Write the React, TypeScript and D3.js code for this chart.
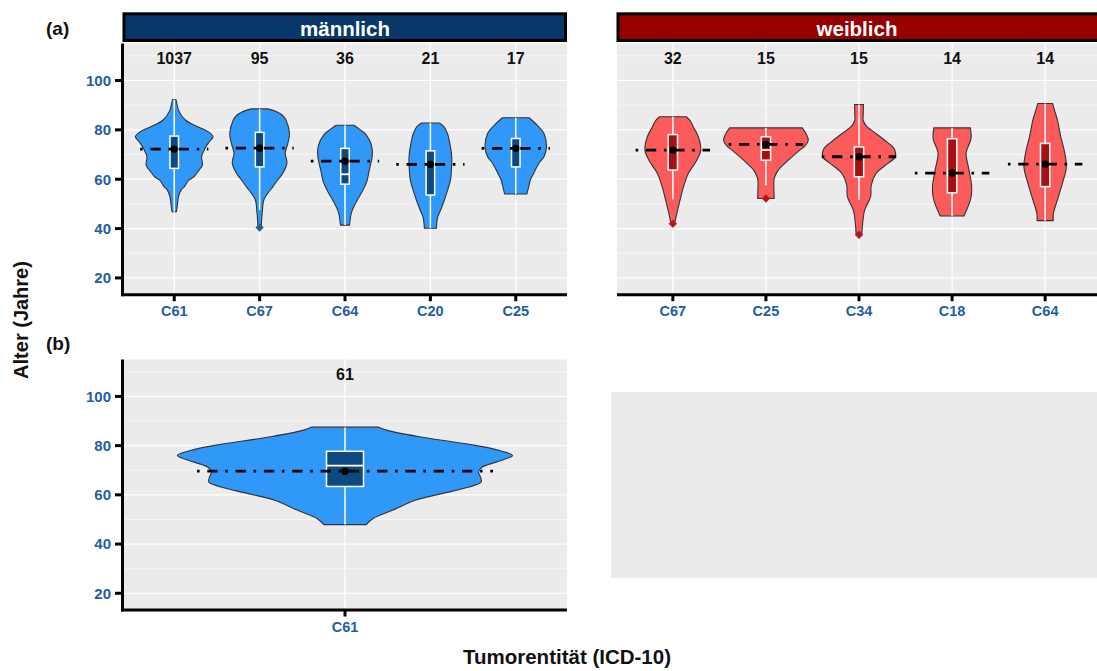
import React from "react";
import * as d3 from "d3";

// ---- Shared axis values ----
const yDomain: [number, number] = [13.2, 115.0];
const yMajorTicks = [20, 40, 60, 80, 100];
const yMinorTicks = [30, 50, 70, 90, 110];

// ---- (a) männlich ----
const maleCategories = ["C61", "C67", "C64", "C20", "C25"];
const maleCounts = [1037, 95, 36, 21, 17];
const maleQ1 = [64.4, 65.0, 58.0, 53.6, 65.0];
const maleMedian = [72.2, 72.6, 62.0, 66.0, 72.5];
const maleQ3 = [77.5, 79.0, 72.5, 71.5, 76.5];
const maleMean = [72.2, 72.6, 67.3, 66.0, 72.5];
const maleWhiskerLow = [46.8, 47.5, 41.4, 40.1, 54.0];
const maleWhiskerHigh = [92.3, 88.5, 81.9, 82.8, 84.9];
const maleOutliers: number[][] = [[], [40.4], [], [], []];
// density outline per group: [age, half-width as share of category step]
const maleDensity: [number, number][][] = [
  [[92.3, 0.02], [90, 0.035], [88, 0.05], [84, 0.13], [81.2, 0.28], [79.2, 0.4], [77.2, 0.455], [75.2, 0.41], [72.5, 0.36], [69.1, 0.32], [65.7, 0.33], [63.7, 0.29], [61, 0.23], [59.6, 0.17], [57, 0.12], [55.6, 0.08], [53, 0.05], [49, 0.035], [46.8, 0.025]],
  [[88.5, 0.094], [87.3, 0.2], [85.5, 0.28], [83.9, 0.31], [78.5, 0.35], [74.5, 0.33], [70.5, 0.3], [66.5, 0.32], [62.3, 0.27], [59.6, 0.21], [57, 0.156], [54, 0.09], [51.6, 0.05], [46.2, 0.03], [40.2, 0.018]],
  [[81.9, 0.105], [80, 0.18], [77.9, 0.25], [73.8, 0.31], [69.8, 0.32], [66, 0.3], [63, 0.28], [59, 0.255], [54.9, 0.2], [50.9, 0.133], [46.8, 0.078], [41.4, 0.053]],
  [[82.8, 0.105], [81.2, 0.16], [78.5, 0.2], [75.8, 0.22], [69.1, 0.25], [63, 0.245], [59.6, 0.235], [55.4, 0.2], [51.6, 0.164], [47.5, 0.12], [44.8, 0.087], [40.1, 0.07]],
  [[84.9, 0.156], [81.9, 0.25], [78.5, 0.33], [73.1, 0.36], [69.1, 0.33], [66.4, 0.27], [62.4, 0.21], [59.6, 0.17], [57, 0.152], [54, 0.13]],
];

// ---- (a) weiblich ----
const femaleCategories = ["C67", "C25", "C34", "C18", "C64"];
const femaleCounts = [32, 15, 15, 14, 14];
const femaleQ1 = [63.7, 67.7, 61.0, 54.5, 57.0];
const femaleMedian = [71.8, 71.8, 69.1, 62.5, 66.1];
const femaleQ3 = [78.1, 77.2, 73.1, 76.4, 74.5];
const femaleMean = [71.8, 74.1, 69.1, 62.5, 66.1];
const femaleWhiskerLow = [51.8, 57.6, 51.6, 45.1, 43.2];
const femaleWhiskerHigh = [85.3, 80.8, 90.3, 80.8, 90.7];
const femaleOutliers: number[][] = [[42.0], [52.2], [37.5], [], []];
const femaleDensity: [number, number][][] = [
  [[85.3, 0.143], [83.5, 0.19], [81.2, 0.22], [77.2, 0.274], [71.8, 0.3], [67.7, 0.257], [62.4, 0.167], [56.9, 0.114], [51.6, 0.078], [46.2, 0.043], [42.1, 0.02]],
  [[80.8, 0.39], [78.5, 0.43], [75.8, 0.455], [73.5, 0.42], [71.8, 0.364], [67.7, 0.24], [63.7, 0.132], [61, 0.095], [59.6, 0.086], [55.6, 0.086], [52.2, 0.089]],
  [[90.3, 0.048], [86, 0.045], [83.9, 0.045], [81.5, 0.08], [79.9, 0.132], [75.8, 0.275], [72.5, 0.375], [69.1, 0.39], [66.4, 0.31], [62.4, 0.185], [57.6, 0.132], [52.9, 0.125], [47.5, 0.061], [43.5, 0.043], [37.4, 0.03]],
  [[80.8, 0.196], [78, 0.205], [75.8, 0.2], [73, 0.17], [70.5, 0.15], [67.5, 0.16], [65, 0.175], [60, 0.2], [56.9, 0.211], [53, 0.205], [50.2, 0.185], [47, 0.15], [45.1, 0.128]],
  [[90.7, 0.08], [88, 0.1], [83.9, 0.132], [77.2, 0.168], [71.8, 0.204], [65, 0.228], [58.3, 0.185], [51.6, 0.132], [46.2, 0.089], [43.2, 0.086]],
];

// ---- (b) ----
const totalCategories = ["C61"];
const totalCounts = [61];
const totalQ1 = [63.4];
const totalMedian = [71.9];
const totalQ3 = [77.7];
const totalMean = [69.6];
const totalWhiskerLow = [47.9];
const totalWhiskerHigh = [87.4];
const totalOutliers: number[][] = [[]];
const totalDensity: [number, number][][] = [
  [[87.5, 0.091], [86.1, 0.117], [83.4, 0.21], [80, 0.356], [78, 0.418], [76, 0.453], [73.3, 0.408], [71.3, 0.371], [69.3, 0.361], [67.3, 0.366], [65.2, 0.368], [63.2, 0.335], [60.5, 0.262], [57.8, 0.19], [53.7, 0.128], [50.4, 0.076], [47.9, 0.057]],
];

const FONT = "'Liberation Sans', Arial, Helvetica, sans-serif";
const TICK_BLUE = "#245E9F";
const PANEL_BG = "#EBEBEB";

type PanelProps = {
  x0: number;
  x1: number;
  y0: number;
  y1: number;
  categories: string[];
  counts: number[];
  q1: number[];
  median: number[];
  q3: number[];
  mean: number[];
  whiskerLow: number[];
  whiskerHigh: number[];
  outliers: number[][];
  density: [number, number][][];
  fill: string;
  boxFill: string;
  outlierFill: string;
  showYAxis: boolean;
  strip?: { label: string; color: string };
};

function Panel(p: PanelProps) {
  const x = d3.scalePoint<string>().domain(p.categories).range([p.x0, p.x1]).padding(0.6);
  const y = d3.scaleLinear().domain(yDomain).range([p.y1, p.y0]);
  const step = x.step();

  return (
    <g>
      <rect x={p.x0} y={p.y0} width={p.x1 - p.x0} height={p.y1 - p.y0} fill={PANEL_BG} />
      {yMinorTicks.map((t) => (
        <line key={"mi" + t} x1={p.x0} x2={p.x1} y1={y(t)} y2={y(t)} stroke="#fff" strokeWidth={0.6} />
      ))}
      {yMajorTicks.map((t) => (
        <line key={"ma" + t} x1={p.x0} x2={p.x1} y1={y(t)} y2={y(t)} stroke="#fff" strokeWidth={1.2} />
      ))}
      {p.categories.map((c) => (
        <line key={"vg" + c} x1={x(c)} x2={x(c)} y1={p.y0} y2={p.y1} stroke="#fff" strokeWidth={1.2} />
      ))}

      {p.categories.map((c, i) => {
        const cx = x(c) as number;
        const area = d3
          .area<[number, number]>()
          .y((d) => y(d[0]))
          .x0((d) => cx - d[1] * step)
          .x1((d) => cx + d[1] * step)
          .curve(d3.curveCatmullRom.alpha(0.5));
        const bw = 0.1 * step;
        const dh = 0.4 * step;
        return (
          <g key={"v" + c}>
            <path d={area(p.density[i]) || ""} fill={p.fill} stroke="#333" strokeWidth={1.1} />
            <line x1={cx} x2={cx} y1={y(p.whiskerLow[i])} y2={y(p.whiskerHigh[i])} stroke="#fff" strokeWidth={1.5} />
            <rect
              x={cx - bw / 2}
              y={y(p.q3[i])}
              width={bw}
              height={y(p.q1[i]) - y(p.q3[i])}
              fill={p.boxFill}
              stroke="#fff"
              strokeWidth={1.5}
            />
            <line x1={cx - bw / 2} x2={cx + bw / 2} y1={y(p.median[i])} y2={y(p.median[i])} stroke="#fff" strokeWidth={1.8} />
            {p.outliers[i].map((o, k) => {
              const oy = y(o);
              return (
                <path
                  key={k}
                  d={`M${cx},${oy - 4.2}L${cx + 4.2},${oy}L${cx},${oy + 4.2}L${cx - 4.2},${oy}Z`}
                  fill={p.outlierFill}
                />
              );
            })}
            <line
              x1={cx - dh}
              x2={cx + dh}
              y1={y(p.mean[i])}
              y2={y(p.mean[i])}
              stroke="#000"
              strokeWidth={2.8}
              strokeDasharray="2.6 7.7 10.3 7.7"
            />
            <circle cx={cx} cy={y(p.mean[i])} r={3.7} fill="#000" />
            <text
              x={cx}
              y={p.y0 + 20}
              textAnchor="middle"
              fontFamily={FONT}
              fontWeight="bold"
              fontSize={16}
              fill="#111"
            >
              {p.counts[i]}
            </text>
          </g>
        );
      })}

      {/* x axis */}
      <line x1={p.showYAxis ? p.x0 - 1.5 : p.x0} x2={p.x1} y1={p.y1} y2={p.y1} stroke="#000" strokeWidth={3} />
      {p.categories.map((c) => (
        <g key={"xt" + c}>
          <line x1={x(c)} x2={x(c)} y1={p.y1} y2={p.y1 + 6.5} stroke="#000" strokeWidth={3} />
          <text
            x={x(c)}
            y={p.y1 + 21.5}
            textAnchor="middle"
            fontFamily={FONT}
            fontWeight="bold"
            fontSize={14.5}
            fill={TICK_BLUE}
          >
            {c}
          </text>
        </g>
      ))}

      {/* y axis */}
      {p.showYAxis && (
        <g>
          <line x1={p.x0 - 0.5} x2={p.x0 - 0.5} y1={p.y0} y2={p.y1 + 1.5} stroke="#000" strokeWidth={3} />
          {yMajorTicks.map((t) => (
            <g key={"yt" + t}>
              <line x1={p.x0 - 8} x2={p.x0} y1={y(t)} y2={y(t)} stroke="#000" strokeWidth={3} />
              <text
                x={p.x0 - 12}
                y={y(t)}
                dy="0.36em"
                textAnchor="end"
                fontFamily={FONT}
                fontWeight="bold"
                fontSize={15}
                fill={TICK_BLUE}
              >
                {t}
              </text>
            </g>
          ))}
        </g>
      )}

      {p.strip && (
        <g>
          <rect
            x={p.x0 + 1}
            y={13.8}
            width={p.x1 - p.x0 - 2.5}
            height={26.7}
            fill={p.strip.color}
            stroke="#000"
            strokeWidth={3}
          />
          <text
            x={(p.x0 + Math.min(p.x1, 1097)) / 2 + (p.x1 > 1097 ? 0 : 0)}
            y={35.5}
            textAnchor="middle"
            fontFamily={FONT}
            fontWeight="bold"
            fontSize={20.5}
            fill="#fff"
          >
            {p.strip.label}
          </text>
        </g>
      )}
    </g>
  );
}

export default function App() {
  return (
    <svg
      width={1097}
      height={671}
      viewBox="0 0 1097 671"
      style={{ position: "absolute", left: 0, top: 0, background: "#fff" }}
    >
      <rect x={0} y={0} width={1097} height={671} fill="#fff" />

      <Panel
        x0={123}
        x1={567}
        y0={43.5}
        y1={294.7}
        categories={maleCategories}
        counts={maleCounts}
        q1={maleQ1}
        median={maleMedian}
        q3={maleQ3}
        mean={maleMean}
        whiskerLow={maleWhiskerLow}
        whiskerHigh={maleWhiskerHigh}
        outliers={maleOutliers}
        density={maleDensity}
        fill="#3098F8"
        boxFill="#0E4A80"
        outlierFill="#2B5C8E"
        showYAxis={true}
        strip={{ label: "männlich", color: "#08376A" }}
      />

      <Panel
        x0={617}
        x1={1101}
        y0={43.5}
        y1={294.7}
        categories={femaleCategories}
        counts={femaleCounts}
        q1={femaleQ1}
        median={femaleMedian}
        q3={femaleQ3}
        mean={femaleMean}
        whiskerLow={femaleWhiskerLow}
        whiskerHigh={femaleWhiskerHigh}
        outliers={femaleOutliers}
        density={femaleDensity}
        fill="#FC5B5B"
        boxFill="#A80F12"
        outlierFill="#B01A1E"
        showYAxis={false}
        strip={{ label: "weiblich", color: "#980000" }}
      />

      <Panel
        x0={123}
        x1={567}
        y0={359.5}
        y1={610}
        categories={totalCategories}
        counts={totalCounts}
        q1={totalQ1}
        median={totalMedian}
        q3={totalQ3}
        mean={totalMean}
        whiskerLow={totalWhiskerLow}
        whiskerHigh={totalWhiskerHigh}
        outliers={totalOutliers}
        density={totalDensity}
        fill="#3098F8"
        boxFill="#0E4A80"
        outlierFill="#2B5C8E"
        showYAxis={true}
      />

      {/* empty placeholder panel */}
      <rect x={611} y={392} width={486} height={186} fill={PANEL_BG} />

      <text x={46} y={35} fontFamily={FONT} fontWeight="bold" fontSize={19} fill="#111">
        (a)
      </text>
      <text x={46} y={350} fontFamily={FONT} fontWeight="bold" fontSize={19} fill="#111">
        (b)
      </text>

      <text
        transform="translate(27.5,320) rotate(-90)"
        textAnchor="middle"
        fontFamily={FONT}
        fontWeight="bold"
        fontSize={20}
        fill="#111"
      >
        Alter (Jahre)
      </text>
      <text x={567} y={664} textAnchor="middle" fontFamily={FONT} fontWeight="bold" fontSize={20.5} fill="#111">
        Tumorentität (ICD-10)
      </text>
    </svg>
  );
}
